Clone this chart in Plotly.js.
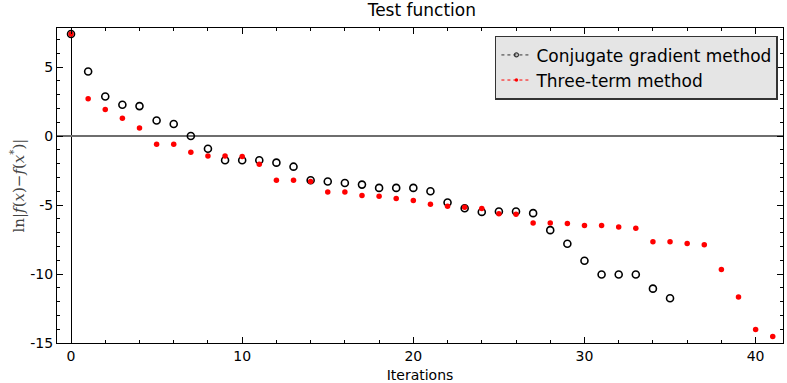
<!DOCTYPE html>
<html>
<head>
<meta charset="utf-8">
<script src="https://cdn.plot.ly/plotly-3.0.1.min.js"></script>
<style>html,body{margin:0;padding:0;background:#fff;}#chart{width:787px;height:383px;}</style>
</head>
<body>
<div id="chart"></div>
<script>
const iterCG = [0,1,2,3,4,5,6,7,8,9,10,11,12,13,14,15,16,17,18,19,20,21,22,23,24,25,26,27,28,29,30,31,32,33,34,35];
const valCG = [7.40,4.68,2.87,2.27,2.17,1.13,0.87,0.00,-0.92,-1.76,-1.76,-1.76,-1.93,-2.22,-3.20,-3.30,-3.40,-3.52,-3.76,-3.76,-3.76,-4.00,-4.82,-5.23,-5.50,-5.47,-5.47,-5.59,-6.82,-7.81,-9.04,-10.03,-10.03,-10.03,-11.06,-11.76];
const iterTT = [0,1,2,3,4,5,6,7,8,9,10,11,12,13,14,15,16,17,18,19,20,21,22,23,24,25,26,27,28,29,30,31,32,33,34,35,36,37,38,39,40,41];
const valTT = [7.40,2.70,1.93,1.28,0.58,-0.60,-0.60,-1.18,-1.45,-1.45,-1.49,-2.05,-3.20,-3.20,-3.30,-4.05,-4.05,-4.31,-4.36,-4.53,-4.68,-4.94,-5.09,-5.16,-5.25,-5.64,-5.66,-6.31,-6.31,-6.34,-6.48,-6.48,-6.60,-6.68,-7.66,-7.66,-7.78,-7.88,-9.67,-11.66,-14.03,-14.53];
const xTicks = [0,10,20,30,40];
const yTicks = [-15,-10,-5,0,5];
const seriesNames = ['Conjugate gradient method','Three-term method'];

const traces = [
  {x: iterCG, y: valCG, type:'scatter', mode:'markers', name:seriesNames[0], showlegend:false,
   marker:{symbol:'circle-open', size:7, color:'#000', line:{width:1.6, color:'#000'}}},
  {x: iterTT, y: valTT, type:'scatter', mode:'markers', name:seriesNames[1], showlegend:false,
   marker:{symbol:'circle', size:5.5, color:'#ff0000'}},
  // legend entries with small symbols, like the reference
  {x:[null], y:[null], type:'scatter', mode:'lines+markers', name:seriesNames[0],
   line:{color:'#333', width:1, dash:'dot'}, marker:{symbol:'circle-open', size:4, color:'#333', line:{width:1.2,color:'#333'}}},
  {x:[null], y:[null], type:'scatter', mode:'lines+markers', name:seriesNames[1],
   line:{color:'#ff0000', width:1, dash:'dot'}, marker:{symbol:'circle', size:3.5, color:'#ff0000'}}
];

const axisCommon = {
  showgrid:false, showline:true, linecolor:'#000', linewidth:1, mirror:'ticks',
  ticks:'inside', ticklen:6, tickcolor:'#000', tickwidth:1,
  tickfont:{family:'DejaVu Sans', size:14, color:'#000'}
};

const layout = {
  width:787, height:383,
  margin:{l:57, r:4, t:28, b:40},
  paper_bgcolor:'#fff', plot_bgcolor:'#fff',
  title:{text:'Test function', font:{family:'DejaVu Sans', size:17, color:'#000'}, x:0.536, xanchor:'center', y:0.99, yanchor:'top'},
  xaxis: Object.assign({}, axisCommon, {
    range:[-0.82, 41.6], tickvals:xTicks, ticktext:xTicks.map(String),
    minor:{ticks:'inside', ticklen:3, tickcolor:'#000', dtick:2, tick0:0},
    zeroline:true, zerolinecolor:'#000', zerolinewidth:1,
    title:{text:'Iterations', font:{family:'DejaVu Sans', size:14, color:'#000'}, standoff:8}
  }),
  yaxis: Object.assign({}, axisCommon, {
    range:[-15, 7.83], tickvals:yTicks, ticktext:yTicks.map(String),
    minor:{ticks:'inside', ticklen:3, tickcolor:'#000', dtick:1, tick0:0},
    zeroline:true, zerolinecolor:'#6e6e6e', zerolinewidth:1.6,
    title:{text:'ln|<i>f</i>(<i>x</i>)−<i>f</i>(<i>x</i><sup>*</sup>)|', font:{family:'DejaVu Serif', size:15, color:'#444'}, standoff:2}
  }),
  legend:{x:0.993, y:0.975, xanchor:'right', yanchor:'top', bgcolor:'#e5e5e5', bordercolor:'#333', borderwidth:1.5,
    font:{family:'DejaVu Sans', size:17, color:'#000'}, itemwidth:30, tracegroupgap:0},
  showlegend:true
};

Plotly.newPlot('chart', traces, layout, {displayModeBar:false, staticPlot:true});
</script>
</body>
</html>
